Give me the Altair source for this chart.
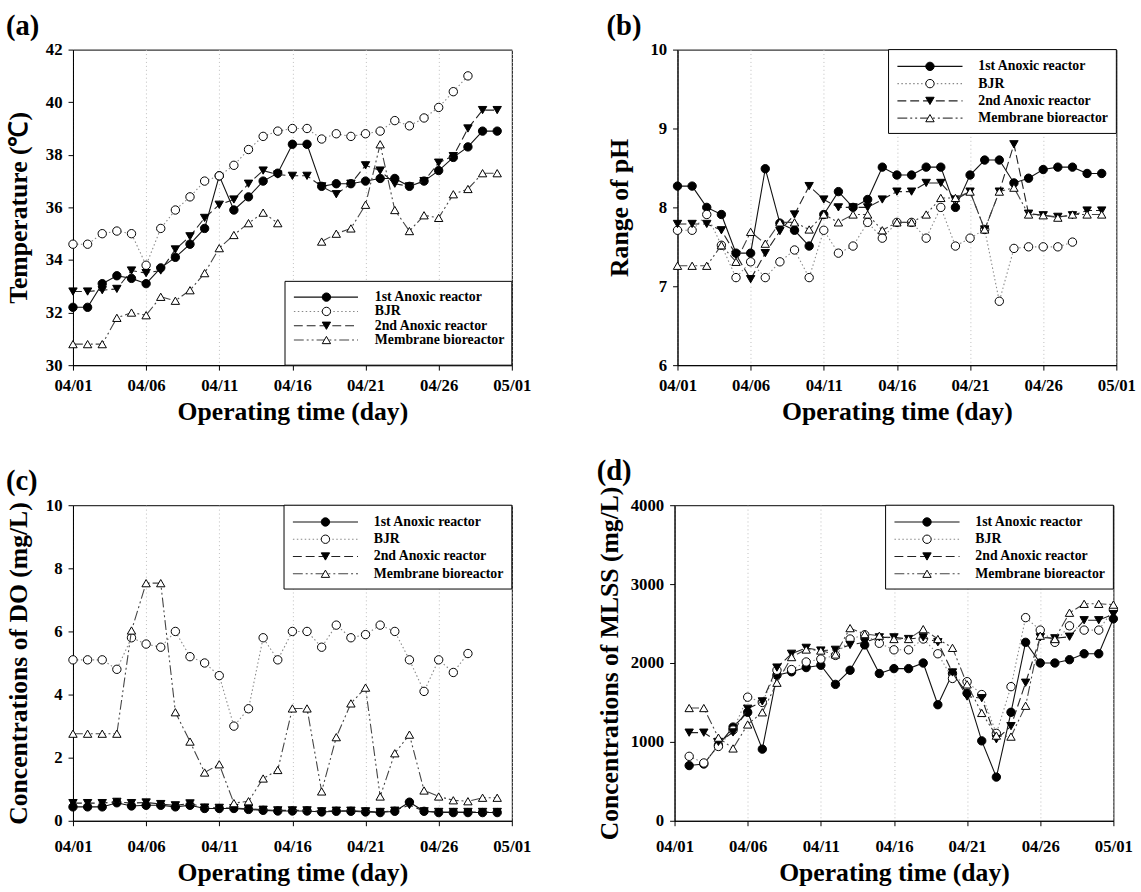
import altair as alt
import pandas as pd

FONT = "Liberation Serif"

# ---------------- data ----------------
SERIES = ["1st Anoxic reactor", "BJR", "2nd Anoxic reactor", "Membrane bioreactor"]
TICK_DAYS = [0, 5, 10, 15, 20, 25, 30]
TICK_LABELS = ["04/01", "04/06", "04/11", "04/16", "04/21", "04/26", "05/01"]

DAYS_APR = list(range(0, 30))    # 04/01 ... 04/30 (day index, 0 = 04/01)
DAYS_MLSS = list(range(1, 31))   # 04/02 ... 05/01

# (a) Temperature (degC)
TEMP_1ST = [32.2, 32.2, 33.1, 33.4, 33.3, 33.1, 33.7, 34.1, 34.6, 35.2, 37.2, 35.9, 36.4, 37.0, 37.3,
            38.4, 38.4, 36.8, 36.9, 36.9, 37.0, 37.1, 37.1, 36.8, 37.0, 37.4, 37.9, 38.3, 38.9, 38.9]
TEMP_BJR = [34.6, 34.6, 35.0, 35.1, 35.0, 33.8, 35.2, 35.9, 36.4, 37.0, 37.2, 37.6, 38.2, 38.7, 38.9,
            39.0, 39.0, 38.6, 38.8, 38.7, 38.8, 38.9, 39.3, 39.1, 39.4, 39.8, 40.4, 41.0]
TEMP_2ND = [32.8, 32.8, 32.85, 32.9, 33.6, 33.5, 33.6, 34.4, 34.9, 35.6, 36.1, 36.3, 36.9, 37.4, 37.25,
            37.2, 37.2, 36.8, 36.5, 36.9, 37.6, 37.4, 36.9, 36.8, 37.0, 37.7, 37.95, 39.0, 39.7, 39.7]
TEMP_MBR = [30.8, 30.8, 30.8, 31.8, 32.0, 31.9, 32.6, 32.45, 32.85, 33.5, 34.45, 34.95, 35.4, 35.8, 35.4,
            None, None, 34.7, 35.0, 35.2, 36.1, 38.4, 35.9, 35.1, 35.7, 35.6, 36.5, 36.7, 37.3, 37.3]

# (b) pH
PH_1ST = [8.27, 8.27, 8.0, 7.91, 7.42, 7.42, 8.49, 7.8, 7.71, 7.51, 7.91, 8.2, 8.0, 8.1, 8.51,
          8.41, 8.41, 8.51, 8.51, 8.0, 8.41, 8.6, 8.6, 8.31, 8.37, 8.48, 8.51, 8.51, 8.43, 8.43]
PH_BJR = [7.71, 7.71, 7.91, 7.52, 7.11, 7.31, 7.11, 7.31, 7.46, 7.11, 7.71, 7.42, 7.51, 7.81, 7.61,
          7.81, 7.81, 7.61, 8.0, 7.51, 7.61, 7.72, 6.81, 7.48, 7.5, 7.5, 7.5, 7.56]
PH_2ND = [7.79, 7.79, 7.79, 7.71, 7.4, 7.09, 7.42, 7.7, 7.91, 8.27, 8.1, 8.0, 8.0, 8.0, 8.1,
          8.2, 8.2, 8.31, 8.31, 8.1, 8.2, 7.72, 8.2, 8.8, 7.92, 7.9, 7.88, 7.9, 7.96, 7.96]
PH_MBR = [7.26, 7.26, 7.26, 7.52, 7.31, 7.69, 7.54, 7.81, 7.81, 7.72, 7.91, 7.81, 7.91, 7.91, 7.71,
          7.81, 7.81, 7.91, 8.12, 8.12, 8.2, 7.72, 8.2, 8.25, 7.91, 7.9, 7.87, 7.91, 7.91, 7.91]

# (c) DO (mg/L)
DO_1ST = [0.44, 0.44, 0.44, 0.57, 0.47, 0.49, 0.49, 0.44, 0.49, 0.39, 0.39, 0.39, 0.36, 0.33, 0.31,
          0.31, 0.31, 0.28, 0.30, 0.30, 0.28, 0.26, 0.30, 0.59, 0.30, 0.26, 0.26, 0.26, 0.26, 0.26]
DO_BJR = [5.1, 5.1, 5.1, 4.8, 5.8, 5.6, 5.5, 6.0, 5.2, 5.0, 4.6, 3.0, 3.55, 5.8, 5.1,
          6.0, 6.0, 5.5, 6.2, 5.8, 5.9, 6.2, 6.0, 5.1, 4.1, 5.1, 4.7, 5.3]
DO_2ND = [0.56, 0.56, 0.56, 0.60, 0.56, 0.58, 0.53, 0.49, 0.55, 0.42, 0.41, 0.40, 0.38, 0.35, 0.33,
          0.33, 0.33, 0.30, 0.32, 0.32, 0.30, 0.28, 0.32, 0.50, 0.30, 0.28, 0.28, 0.28, 0.28, 0.28]
DO_MBR = [2.76, 2.76, 2.76, 2.76, 6.03, 7.53, 7.53, 3.44, 2.51, 1.53, 1.79, 0.56, 0.62, 1.34, 1.61,
          3.56, 3.56, 0.93, 2.65, 3.72, 4.22, 0.77, 2.14, 2.73, 0.96, 0.77, 0.65, 0.62, 0.73, 0.73]

# (d) MLSS (mg/L)
MLSS_1ST = [700, 720, 960, 1188, 1375, 908, 1846, 1888, 1942, 1971, 1729, 1908, 2229, 1867, 1929,
            1929, 2000, 1471, 1867, 1617, 1013, 554, 1375, 2262, 2000, 2000, 2042, 2117, 2117, 2560]
MLSS_BJR = [817, 733, 942, 1150, 1567, 1500, 1908, 1917, 2013, 2050, 2096, 2304, 2358, 2250, 2167,
            2167, 2304, 2117, 1804, 1763, 1600, 1108, 1700, 2575, 2417, 2262, 2471, 2417, 2417, 2680]
MLSS_2ND = [1117, 1117, 1000, 1120, 1420, 1513, 1942, 2117, 2192, 2158, 2167, 2229, 2263, 2325, 2325,
            2304, 2325, 2263, 1880, 1575, 1554, 1033, 1200, 1750, 2325, 2313, 2333, 2542, 2542, 2620]
MLSS_MBR = [1429, 1429, 1054, 917, 1221, 1375, 1750, 2075, 2171, 2158, 2108, 2442, 2367, 2346, 2304,
            2304, 2429, 2304, 2192, 1729, 1367, 1080, 1067, 1458, 2346, 2304, 2637, 2750, 2750, 2740]

# ---------------- styles ----------------
STYLES = {
    "1st Anoxic reactor": dict(shape="circle", fill="black", dash=None, color="#111111"),
    "BJR": dict(shape="circle", fill="white", dash=[1.5, 2.5], color="#888888"),
    "2nd Anoxic reactor": dict(shape="triangle-down", fill="black", dash=[9, 4], color="#222222"),
    "Membrane bioreactor": dict(shape="triangle-up", fill="white", dash=[10, 3, 2, 3, 2, 3], color="#444444"),
}
MARK_SIZE = 72
W, H = 445, 320

label_expr = " : ".join(f"datum.value == {d} ? '{l}'" for d, l in zip(TICK_DAYS, TICK_LABELS)) + " : ''"


def x_enc(label_pad, title_pad):
    return alt.X(
        "day:Q",
        scale=alt.Scale(domain=[0, 30], nice=False, zero=False),
        axis=alt.Axis(values=TICK_DAYS, labelExpr=label_expr, title="Operating time (day)",
                      grid=True, gridDash=[1, 3], gridColor="#bdbdbd", tickSize=5,
                      labelPadding=label_pad, titlePadding=title_pad, labelFlush=False),
    )


def y_enc(domain, values, title, extent, tpad):
    return alt.Y(
        "value:Q",
        scale=alt.Scale(domain=domain, nice=False, zero=False),
        axis=alt.Axis(values=values, title=title, grid=False, tickSize=5, labelPadding=6, format="d",
                      minExtent=extent, maxExtent=extent, titlePadding=tpad),
    )


def series_layers(days, values, name, xe, ye):
    df = pd.DataFrame({"day": days[:len(values)], "value": [float("nan") if v is None else v for v in values]})
    st = STYLES[name]
    lk = dict(color=st["color"], strokeWidth=1.1, invalid="break-paths-filter-domains")
    if st["dash"]:
        lk["strokeDash"] = st["dash"]
    line = alt.Chart(df).mark_line(**lk).encode(x=xe, y=ye)
    pts = alt.Chart(df.dropna()).mark_point(
        shape=st["shape"], filled=True, fill=st["fill"], stroke="black", strokeWidth=1,
        size=MARK_SIZE, opacity=1, fillOpacity=1, strokeOpacity=1,
    ).encode(x=xe, y=ye)
    return [line, pts]


def legend_layers(box, rows_y, line_x, mark_x, text_x):
    layers = []
    layers.append(
        alt.Chart(pd.DataFrame({"k": [0]})).mark_rect(fill="white", stroke="black", strokeWidth=1).encode(
            x=alt.value(box[0]), x2=alt.value(box[1]), y=alt.value(box[2]), y2=alt.value(box[3]))
    )
    for name, yy in zip(SERIES, rows_y):
        st = STYLES[name]
        ldf = pd.DataFrame({"label": [name]})
        rk = dict(color=st["color"], strokeWidth=1.1)
        if st["dash"]:
            rk["strokeDash"] = st["dash"]
        layers.append(alt.Chart(ldf).mark_rule(**rk).encode(
            x=alt.value(line_x[0]), x2=alt.value(line_x[1]), y=alt.value(yy)))
        layers.append(alt.Chart(ldf).mark_point(
            shape=st["shape"], filled=True, fill=st["fill"], stroke="black", strokeWidth=1,
            size=MARK_SIZE, opacity=1).encode(x=alt.value(mark_x), y=alt.value(yy)))
        layers.append(alt.Chart(ldf).mark_text(
            align="left", baseline="middle", font=FONT, fontWeight="bold", fontSize=14, color="black"
        ).encode(x=alt.value(text_x), y=alt.value(yy), text="label:N"))
    return layers


def panel(tag, days, data, ydomain, yvalues, ytitle, extent, tpad, legend, xpads):
    xe = x_enc(*xpads)
    ye = y_enc(ydomain, yvalues, ytitle, extent, tpad)
    layers = []
    for name, vals in zip(SERIES, data):
        layers += series_layers(days, vals, name, xe, ye)
    layers += legend_layers(**legend)
    return alt.layer(*layers).properties(
        width=W, height=H,
        title=alt.TitleParams(text=tag, anchor="start", frame="bounds", fontSize=29, font=FONT,
                              fontWeight="bold", offset=0, color="black"),
    )


LEG_BOTTOM = dict(box=(215, 445, 235, 320), rows_y=[251, 265.5, 280, 294.5], line_x=(224, 289), mark_x=257, text_x=306)
LEG_TOP = dict(box=(214, 445, 0, 85), rows_y=[17, 34.5, 52, 69.5], line_x=(223, 289), mark_x=256, text_x=305)
XPAD_TOP = (8, 5)
XPAD_BOTTOM = (13, 6)

pa = panel("(a)", DAYS_APR, [TEMP_1ST, TEMP_BJR, TEMP_2ND, TEMP_MBR], [30, 42], [30, 32, 34, 36, 38, 40, 42],
           "Temperature (\u2103)", 32, 10, LEG_BOTTOM, XPAD_TOP)
pb = panel("(b)", DAYS_APR, [PH_1ST, PH_BJR, PH_2ND, PH_MBR], [6, 10], [6, 7, 8, 9, 10],
           "Range of pH", 32, 14, LEG_TOP, XPAD_TOP)
pc = panel("(c)", DAYS_APR, [DO_1ST, DO_BJR, DO_2ND, DO_MBR], [0, 10], [0, 2, 4, 6, 8, 10],
           "Concentrations of DO (mg/L)", 32, 10, LEG_TOP, XPAD_BOTTOM)
pd_ = panel("(d)", DAYS_MLSS, [MLSS_1ST, MLSS_BJR, MLSS_2ND, MLSS_MBR], [0, 4000], [0, 1000, 2000, 3000, 4000],
            "Concentrations of MLSS (mg/L)", 45, 8, LEG_TOP, XPAD_BOTTOM)

top = alt.hconcat(pa, pb, spacing=75)
bottom = alt.hconcat(pc, pd_, spacing=65)
chart = alt.vconcat(top, bottom, spacing=32).properties(background="white").configure_view(
    stroke="black", strokeWidth=1
).configure_axis(
    domainColor="black", tickColor="black", labelColor="black", titleColor="black",
    labelFont=FONT, titleFont=FONT, labelFontWeight="bold", titleFontWeight="bold",
    labelFontSize=17, titleFontSize=26, domainWidth=1, tickWidth=1,
)

chart.save("out.html", embed_options={"renderer": "svg", "actions": False})
